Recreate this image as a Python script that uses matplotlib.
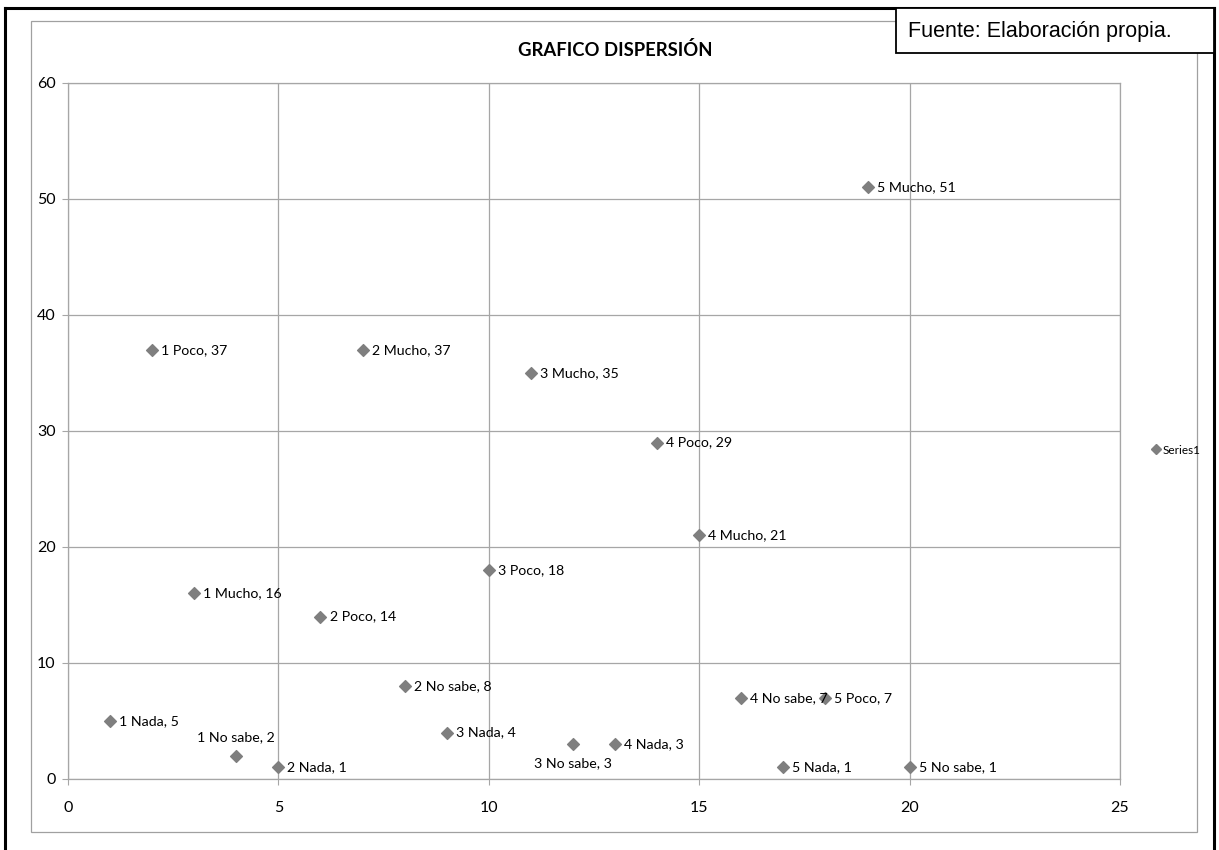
import matplotlib
matplotlib.use("Agg")
import matplotlib.pyplot as plt
from matplotlib.patches import Rectangle
from matplotlib.lines import Line2D

labels = ["1 Nada", "1 Poco", "1 Mucho", "1 No sabe",
          "2 Nada", "2 Poco", "2 Mucho", "2 No sabe",
          "3 Nada", "3 Poco", "3 Mucho", "3 No sabe",
          "4 Nada", "4 Poco", "4 Mucho", "4 No sabe",
          "5 Nada", "5 Poco", "5 Mucho", "5 No sabe"]
x_vals = [1, 2, 3, 4, 5, 6, 7, 8, 9, 10, 11, 12, 13, 14, 15, 16, 17, 18, 19, 20]
y_vals = [5, 37, 16, 2, 1, 14, 37, 8, 4, 18, 35, 3, 3, 29, 21, 7, 1, 7, 51, 1]
x_ticks = [0, 5, 10, 15, 20, 25]
y_ticks = [0, 10, 20, 30, 40, 50, 60]

plt.rcParams['font.family'] = ['Lato', 'DejaVu Sans']

fig = plt.figure(figsize=(12.19, 8.5), dpi=100)
W, H = 1219, 850

def fx(px):
    return px / W

def fy(py):
    return 1 - py / H

# outer page frame
fig.add_artist(Line2D([fx(5), fx(5)], [fy(8), 0], color='black', lw=2.2, transform=fig.transFigure))
fig.add_artist(Line2D([fx(1214), fx(1214)], [fy(8), 0], color='black', lw=2.2, transform=fig.transFigure))
fig.add_artist(Line2D([fx(5), fx(1214)], [fy(8), fy(8)], color='black', lw=2.2, transform=fig.transFigure))

# chart area frame
fig.add_artist(Rectangle((fx(31), fy(832)), fx(1197 - 31), (832 - 21) / H,
                         fill=False, edgecolor='#a0a0a0', lw=0.9, transform=fig.transFigure))

ax = fig.add_axes([fx(68), fy(779), fx(1120 - 68), (779 - 83) / H])
ax.scatter(x_vals, y_vals, marker='D', s=36, color='#7f7f7f', zorder=3, label='Series1')

for lab, xv, yv in zip(labels, x_vals, y_vals):
    txt = f"{lab}, {yv}"
    if lab == "1 No sabe":
        ax.annotate(txt, (xv, yv), xytext=(0, 9), textcoords='offset points',
                    ha='center', va='bottom', fontsize=10.2)
    elif lab == "3 No sabe":
        ax.annotate(txt, (xv, yv), xytext=(0, -9), textcoords='offset points',
                    ha='center', va='top', fontsize=10.2)
    else:
        ax.annotate(txt, (xv, yv), xytext=(6.5, 0), textcoords='offset points',
                    ha='left', va='center', fontsize=10.2)

ax.set_xlim(0, 25)
ax.set_ylim(0, 60)
ax.set_xticks(x_ticks)
ax.set_yticks(y_ticks)
ax.grid(True, color='#a6a6a6', lw=0.9)
ax.set_axisbelow(True)
for s in ax.spines.values():
    s.set_color('#a6a6a6')
    s.set_linewidth(0.9)
ax.tick_params(axis='both', colors='#a6a6a6', labelcolor='black', labelsize=11.5, length=4)
ax.tick_params(axis='x', pad=12)
ax.tick_params(axis='y', pad=5)

fig.text(fx(615), fy(50), "GRAFICO DISPERSIÓN", ha='center', va='center',
         fontsize=13.3, fontweight='bold', family=['Lato', 'DejaVu Sans'])

# Fuente box
fig.add_artist(Rectangle((fx(896), fy(53)), fx(1214 - 896), (53 - 8) / H,
                         fill=True, facecolor='white', edgecolor='black', lw=1.3,
                         transform=fig.transFigure, zorder=5))
fig.text(fx(1040), fy(31), "Fuente: Elaboración propia.", ha='center', va='center',
         fontsize=15.5, family=['Liberation Sans', 'DejaVu Sans'], zorder=6)

# legend
fig.legend(handles=[Line2D([], [], marker='D', color='#7f7f7f', ls='', markersize=5)],
           labels=['Series1'], loc='center left', bbox_to_anchor=(fx(1141), fy(450)),
           frameon=False, fontsize=8.5, handletextpad=0.1, handlelength=0.8)

fig.savefig("out.png", dpi=100)
